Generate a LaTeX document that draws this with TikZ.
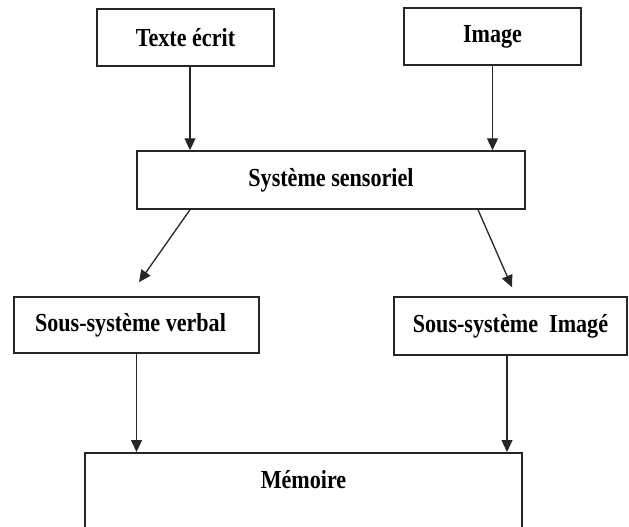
\documentclass[tikz,border=0pt]{standalone}
\usepackage{fontspec}
\setmainfont{Liberation Serif}[FakeStretch=0.85]
\usetikzlibrary{arrows.meta}

\begin{document}
\begin{tikzpicture}[x=1pt,y=-1pt,
  font=\fontsize{26}{30}\selectfont\bfseries,
  box/.style={draw=black!85, line width=1.5pt, inner sep=0pt},
  fleche/.style={draw=black!85, line width=1.3pt, -{Triangle[length=12pt,width=11pt]}}]

\useasboundingbox (0,0) rectangle (629,527);
\clip (0,0) rectangle (629,527);

\node[box, minimum width=177pt, minimum height=57pt] (texte) at (185.5,37.5) {Texte écrit};
\node[box, minimum width=177pt, minimum height=57pt] (image) at (492.5,36.5) {Image};
\node[box, minimum width=388pt, minimum height=58pt] (sensoriel) at (331,180) {Système sensoriel};
\node[box, minimum width=245pt, minimum height=56pt] (verbal) at (136.5,325) {\hspace*{-12pt}Sous-système verbal};
\node[box, minimum width=233pt, minimum height=58pt] (imagee) at (510.5,326) {Sous-système~ Imagé};
\node[box, minimum width=437pt, minimum height=150pt, anchor=north] (memoire) at (303.5,452) {};
\node (memtext) at ([yshift=-28pt]memoire.north) {Mémoire};

\draw [fleche] ([xshift=4.5pt]texte.south) -- ([xshift=4.5pt]texte.south |- sensoriel.north);
\draw [fleche] (image.south) -- (image.south |- sensoriel.north);

\draw [fleche] ([xshift=-141pt]sensoriel.south) -- ([xshift=2.5pt,yshift=14pt]verbal.north);
\draw [fleche] ([xshift=147pt]sensoriel.south) -- ([xshift=1.5pt,yshift=9pt]imagee.north);

\draw [fleche] (verbal.south) -- (verbal.south |- memoire.north);
\draw [fleche] ([xshift=-3.5pt]imagee.south) -- ([xshift=-3.5pt]imagee.south |- memoire.north);
\end{tikzpicture}
\end{document}
